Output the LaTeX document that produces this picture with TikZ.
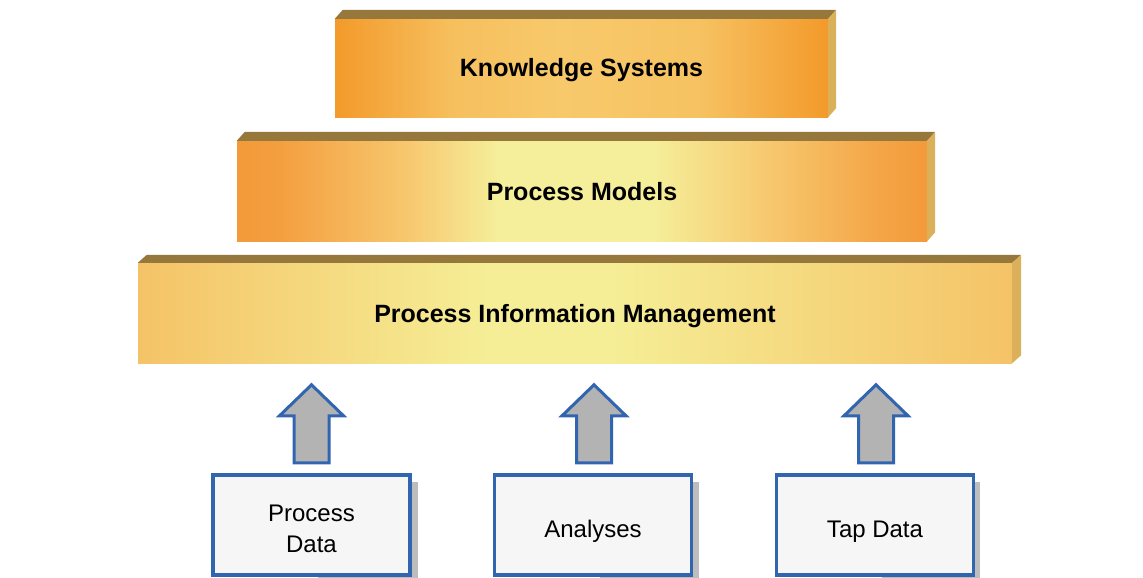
\documentclass[tikz,border=0pt]{standalone}
\usepackage{fontspec}
\setmainfont{Liberation Sans}
\usetikzlibrary{calc}
\definecolor{orA}{HTML}{F39A2B}
\definecolor{ksMid}{HTML}{F7C96B}
\definecolor{orB}{HTML}{F39A3A}
\definecolor{pmLt}{HTML}{F7C66C}
\definecolor{pmY}{HTML}{F5EF9B}
\definecolor{pimEdge}{HTML}{F5C367}
\definecolor{pimMid}{HTML}{F5EE96}
\definecolor{bevelTop}{HTML}{96783C}
\definecolor{bevelSide}{HTML}{DBB05B}
\definecolor{boxBlue}{HTML}{3265AF}
\definecolor{boxFill}{HTML}{F6F6F6}
\definecolor{arrGray}{HTML}{B3B3B3}
\definecolor{shadowGray}{HTML}{BDBDBD}
\pgfdeclarehorizontalshading{ksShade}{100bp}{color(0bp)=(orA); color(25bp)=(orA); color(37bp)=(ksMid!80!orA); color(48bp)=(ksMid); color(62bp)=(ksMid!85!orA); color(75bp)=(orA); color(100bp)=(orA)}
\pgfdeclarehorizontalshading{pmShade}{100bp}{color(0bp)=(orB); color(25bp)=(orB); color(28bp)=(orB!90!pmLt); color(37bp)=(pmLt); color(44bp)=(pmY); color(55bp)=(pmY); color(64bp)=(pmLt); color(71bp)=(orB!70!pmLt); color(75bp)=(orB); color(100bp)=(orB)}
\pgfdeclarehorizontalshading{pimShade}{100bp}{color(0bp)=(pimEdge); color(25bp)=(pimEdge); color(45bp)=(pimMid); color(52bp)=(pimMid); color(75bp)=(pimEdge); color(100bp)=(pimEdge)}
\tikzset{
  layer/.style={inner sep=0pt, font=\fontsize{25}{30}\selectfont\bfseries, text=black, text height=18pt, text depth=0pt},
  topface/.style={fill=bevelTop, draw=none},
  sideface/.style={fill=bevelSide, draw=none},
  srcbox/.style={draw=boxBlue, line width=3.4pt, fill=boxFill, minimum width=197pt, minimum height=100pt, inner sep=0pt, align=center, font=\fontsize{24}{31}\selectfont, text=black},
  oneline/.style={text height=25pt, text depth=0pt},
  twoline/.style={text height=54pt, text depth=0pt},
  boxshadow/.style={fill=shadowGray, draw=none},
  blockarrow/.style={draw=boxBlue, line width=3pt, fill=arrGray, line join=miter},
}
\newcommand\upblockarrow[2]{%
  \draw[blockarrow] ($(#1.north)+(#2,-10.5)$) -- ++(-17.5,0) -- ++(0,-47) -- ++(-14.5,0) -- ++(32,-31) -- ++(32,31) -- ++(-14.5,0) -- ++(0,47) -- cycle;}
\begin{document}
\begin{tikzpicture}[x=1pt,y=-1pt]
\useasboundingbox (0,0) rectangle (1143,578);
% Knowledge Systems
\node[layer, shade, shading=ksShade, minimum width=493pt, minimum height=98pt] (ks) at (581.5,68) {Knowledge Systems};
\fill[topface] (ks.north west) -- ++(8,-9) -- ($(ks.north east)+(8,-9)$) -- (ks.north east) -- cycle;
\fill[sideface] (ks.north east) -- ++(8,-9) -- ($(ks.south east)+(8,-9)$) -- (ks.south east) -- cycle;
% Process Models
\node[layer, shade, shading=pmShade, minimum width=690pt, minimum height=100pt] (pm) at (582,191) {Process Models};
\fill[topface] (pm.north west) -- ++(8,-9) -- ($(pm.north east)+(8,-9)$) -- (pm.north east) -- cycle;
\fill[sideface] (pm.north east) -- ++(8,-9) -- ($(pm.south east)+(8,-9)$) -- (pm.south east) -- cycle;
% Process Information Management
\node[layer, shade, shading=pimShade, minimum width=874pt, minimum height=100pt] (pim) at (575,313) {Process Information Management};
\fill[topface] (pim.north west) -- ++(9,-8) -- ($(pim.north east)+(9,-8)$) -- (pim.north east) -- cycle;
\fill[sideface] (pim.north east) -- ++(9,-8) -- ($(pim.south east)+(9,-8)$) -- (pim.south east) -- cycle;
% source box shadows
\fill[boxshadow] (318,482) rectangle (418,578);
\fill[boxshadow] (600,482) rectangle (699,578);
\fill[boxshadow] (882,482) rectangle (980,578);
% source boxes
\node[srcbox, twoline] (pd) at (311.5,525) {Process\\Data};
\node[srcbox, oneline] (an) at (593,525) {Analyses};
\node[srcbox, oneline] (tp) at (875,525) {Tap Data};
% arrows
\upblockarrow{pd}{0}
\upblockarrow{an}{1}
\upblockarrow{tp}{1}
\end{tikzpicture}
\end{document}
